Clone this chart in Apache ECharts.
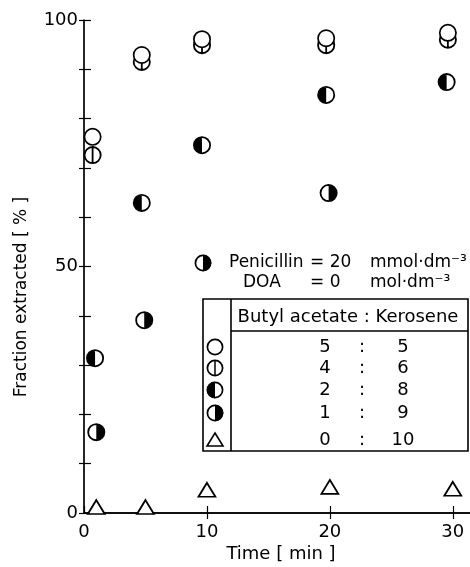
<!DOCTYPE html>
<html><head><meta charset="utf-8">
<script src="https://cdn.jsdelivr.net/npm/echarts@6/dist/echarts.min.js"></script>
<style>html,body{margin:0;padding:0;background:#fff}#c{width:470px;height:567px}</style>
</head><body><div id="c"></div>
<script>
// ---- data ----
const xTicks = [0, 10, 20, 30];
const yLabelTicks = [0, 50, 100];
// Butyl acetate : Kerosene = 5 : 5
const timeA = [0.7, 4.7, 9.6, 19.7, 29.6];
const fracA = [76.3, 92.9, 96.1, 96.3, 97.4];
// 4 : 6
const timeB = [0.7, 4.7, 9.6, 19.7, 29.6];
const fracB = [72.6, 91.5, 94.9, 94.9, 96.0];
// 2 : 8
const timeC = [0.9, 4.7, 9.6, 19.7, 29.5];
const fracC = [31.4, 62.9, 74.6, 84.8, 87.4];
// 1 : 9
const timeD = [1.0, 4.9, 19.9];
const fracD = [16.4, 39.1, 64.9];
// 0 : 10
const timeE = [1, 5, 10, 20, 30];
const fracE = [1.2, 1.2, 4.7, 5.3, 4.9];
const ratioLeft = ['5', '4', '2', '1', '0'];
const ratioRight = ['5', '6', '8', '9', '10'];

const FONT = '"DejaVu Sans"';
const RING = 'M50,0 A50,50 0 1,1 50,100 A50,50 0 1,1 50,0 Z M50,10 A40,40 0 1,0 50,90 A40,40 0 1,0 50,10 Z';
const P_LEFT = RING + ' M50,100 A50,50 0 0,1 50,0 Z';
const P_RIGHT = RING + ' M50,0 A50,50 0 0,1 50,100 Z';
const P_VLINE = RING + ' M45,0 L55,0 L55,100 L45,100 Z';

const zip = (a, b) => a.map((v, i) => [v, b[i]]);
const SZ = 18;

const chart = echarts.init(document.getElementById('c'), null, {renderer: 'canvas'});

const axisLineStyle = {color: '#000', width: 1.7};
const common = {type: 'scatter', emphasis: {disabled: true}, silent: true};
const series = [
  Object.assign({data: zip(timeB, fracB), symbol: 'path://' + P_VLINE, symbolSize: SZ,
   itemStyle: {color: '#000', opacity: 1}, z: 2}, common),
  Object.assign({data: zip(timeA, fracA), symbol: 'circle', symbolSize: SZ - 1.7,
   itemStyle: {color: '#fff', borderColor: '#000', borderWidth: 1.7, opacity: 1}, z: 3}, common),
  Object.assign({data: zip(timeC, fracC), symbol: 'path://' + P_LEFT, symbolSize: SZ,
   itemStyle: {color: '#000', opacity: 1}, z: 2}, common),
  Object.assign({data: zip(timeD, fracD), symbol: 'path://' + P_RIGHT, symbolSize: SZ,
   itemStyle: {color: '#000', opacity: 1}, z: 2}, common),
  Object.assign({data: zip(timeE, fracE), symbol: 'triangle', symbolSize: [17, 14],
   itemStyle: {color: '#fff', borderColor: '#000', borderWidth: 1.7, opacity: 1}, z: 2}, common)
];

// legend / table graphics
const g = [];
const txt = (text, x, y, opt) => Object.assign({
  type: 'text', x: x, y: y, silent: true,
  style: Object.assign({text: text, font: '17px ' + FONT, fill: '#000',
    align: 'left', verticalAlign: 'middle', textAlign: 'left', textVerticalAlign: 'middle'}, opt || {})
});
const ringMark = (cx, cy) => ({type: 'circle', silent: true, shape: {cx: cx, cy: cy, r: 7.6},
  style: {fill: 'none', stroke: '#000', lineWidth: 1.7}});
const halfMark = (cx, cy, left) => ({type: 'sector', silent: true,
  shape: {cx: cx, cy: cy, r: 8.3, r0: 0,
    startAngle: left ? Math.PI / 2 : -Math.PI / 2, endAngle: left ? Math.PI * 1.5 : Math.PI / 2, clockwise: true},
  style: {fill: '#000'}});
// axis titles
g.push({type: 'text', x: 22, y: 297, rotation: Math.PI / 2, silent: true,
  style: {text: 'Fraction extracted [ % ]', font: '17px ' + FONT, fill: '#000',
    align: 'center', verticalAlign: 'middle', textAlign: 'center', textVerticalAlign: 'middle'}});
g.push(txt('Time [ min ]', 281, 554, {font: '18px ' + FONT, align: 'center', textAlign: 'center'}));

// conditions
g.push(ringMark(203, 263));
g.push(halfMark(203, 263, false));
g.push(txt('Penicillin', 229, 263));
g.push(txt('= 20', 310, 263));
g.push(txt('mmol·dm⁻³', 370, 263));
g.push(txt('DOA', 243, 283));
g.push(txt('= 0', 310, 283));
g.push(txt('mol·dm⁻³', 370, 283));

// table
g.push({type: 'rect', silent: true, shape: {x: 203, y: 299, width: 265, height: 152},
  style: {fill: 'none', stroke: '#000', lineWidth: 1.6}});
g.push({type: 'line', silent: true, shape: {x1: 231, y1: 299, x2: 231, y2: 451}, style: {stroke: '#000', lineWidth: 1.6}});
g.push({type: 'line', silent: true, shape: {x1: 231, y1: 331, x2: 468, y2: 331}, style: {stroke: '#000', lineWidth: 1.6}});
g.push(txt('Butyl acetate : Kerosene', 348, 317, {font: '18px ' + FONT, align: 'center', textAlign: 'center'}));
const rowY = [347, 368, 390, 413, 440];
const sx = 215;
g.push({type: 'circle', silent: true, shape: {cx: sx, cy: rowY[0], r: 7.6}, style: {fill: '#fff', stroke: '#000', lineWidth: 1.7}});
g.push(ringMark(sx, rowY[1]));
g.push({type: 'line', silent: true, shape: {x1: sx, y1: rowY[1] - 7.5, x2: sx, y2: rowY[1] + 7.5}, style: {stroke: '#000', lineWidth: 1.5}});
g.push(ringMark(sx, rowY[2]));
g.push(halfMark(sx, rowY[2], true));
g.push(ringMark(sx, rowY[3]));
g.push(halfMark(sx, rowY[3], false));
g.push({type: 'polygon', silent: true, shape: {points: [[sx, rowY[4] - 7], [sx + 8, rowY[4] + 6], [sx - 8, rowY[4] + 6]]},
  style: {fill: '#fff', stroke: '#000', lineWidth: 1.6}});
ratioLeft.forEach((v, i) => {
  g.push(txt(v, 325, rowY[i], {font: '18px ' + FONT, align: 'center', textAlign: 'center'}));
  g.push(txt(':', 362, rowY[i], {font: '18px ' + FONT, align: 'center', textAlign: 'center'}));
  g.push(txt(ratioRight[i], 403, rowY[i], {font: '18px ' + FONT, align: 'center', textAlign: 'center'}));
});

chart.setOption({
  animation: false,
  backgroundColor: '#fff',
  textStyle: {fontFamily: FONT},
  grid: {left: 84, right: 0, top: 20, bottom: 54, containLabel: false},
  xAxis: [
    {type: 'value', min: 0, max: 31.4, interval: 10, position: 'bottom',
     axisLine: {show: true, lineStyle: axisLineStyle},
     axisTick: {show: true, inside: true, length: 7, customValues: xTicks, lineStyle: {color: '#000', width: 1.2}},
     axisLabel: {show: true, customValues: xTicks, margin: 10, color: '#000', fontSize: 18, fontFamily: FONT},
     splitLine: {show: false}},
    {type: 'value', min: 0, max: 31.4, interval: 10, position: 'top',
     axisLine: {show: true, lineStyle: axisLineStyle},
     axisTick: {show: true, inside: true, length: 6, customValues: [10, 20, 30], lineStyle: {color: '#000', width: 1.2}},
     axisLabel: {show: false}, splitLine: {show: false}}
  ],
  yAxis: [
    {type: 'value', min: 0, max: 100, interval: 10, position: 'left',
     axisLine: {show: true, lineStyle: axisLineStyle},
     axisTick: {show: true, inside: true, length: 7, lineStyle: {color: '#000', width: 1.2}},
     axisLabel: {show: true, customValues: yLabelTicks, margin: 6, color: '#000', fontSize: 18, fontFamily: FONT},
     splitLine: {show: false}},
    {type: 'value', min: 0, max: 100, interval: 10, position: 'right',
     axisLine: {show: false},
     axisTick: {show: true, inside: true, length: 5, lineStyle: {color: '#000', width: 1.2}},
     axisLabel: {show: false}, splitLine: {show: false}}
  ],
  series: series,
  graphic: g
});
</script></body></html>
